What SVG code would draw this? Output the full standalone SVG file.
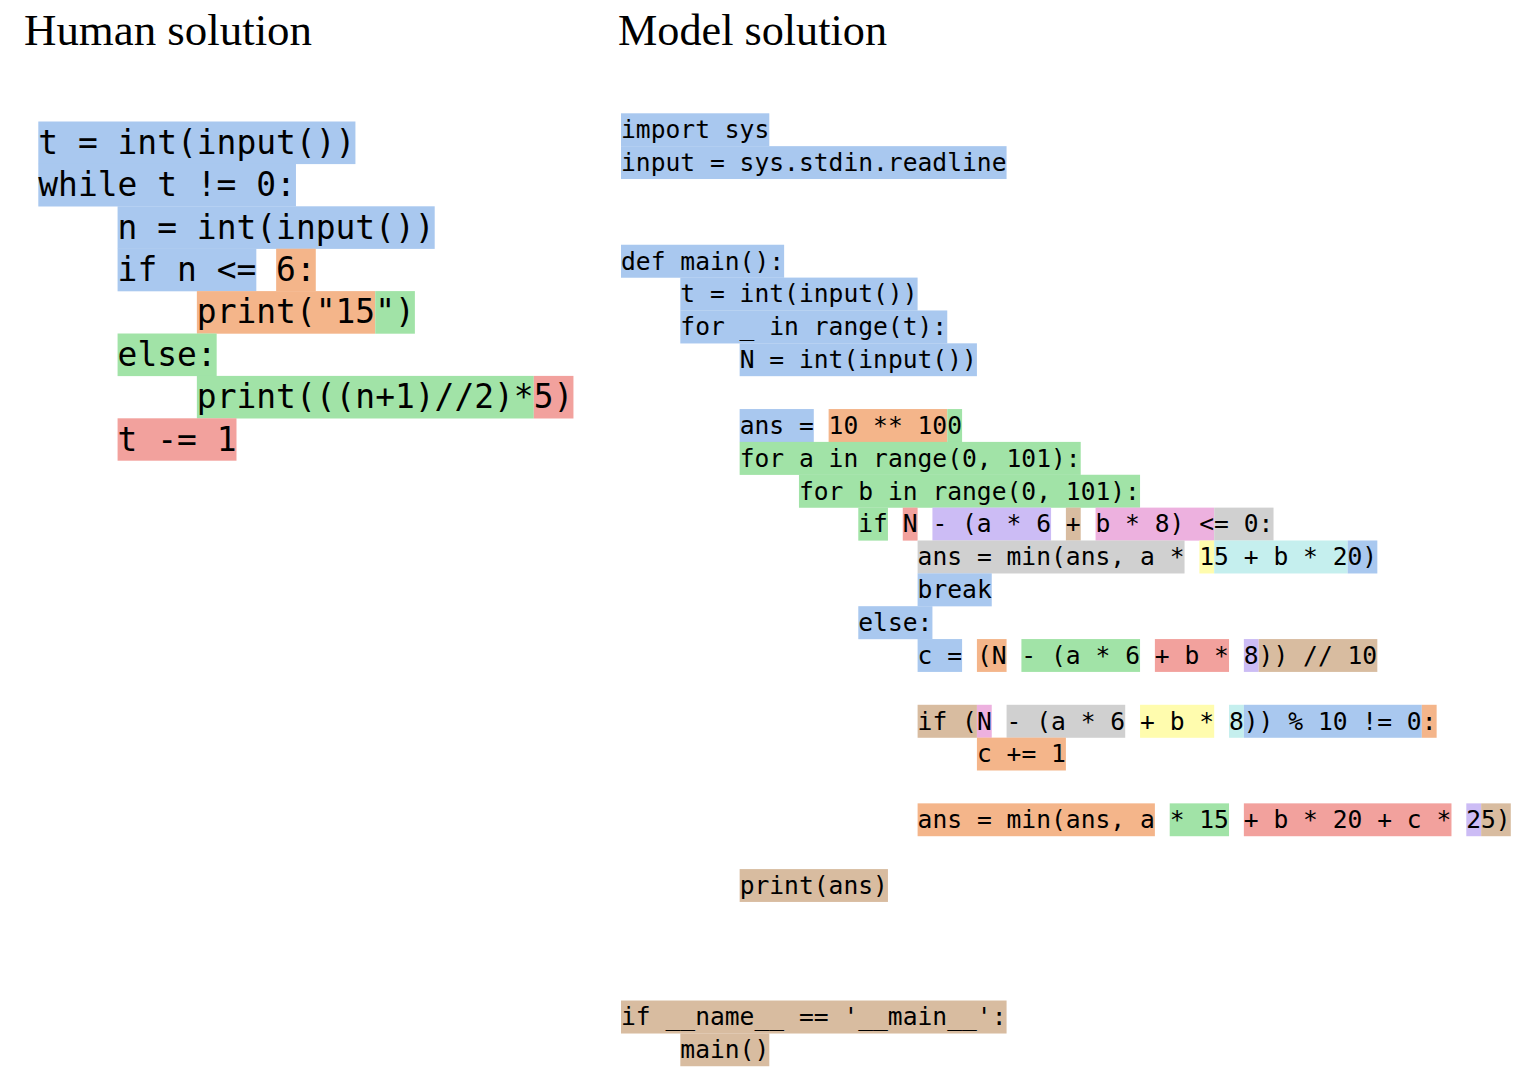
<svg xmlns="http://www.w3.org/2000/svg" width="1527" height="1072" viewBox="0 0 1527 1072">
<style>
.bg{fill:#ffffff}
.title{font-family:"Liberation Serif","DejaVu Serif",serif;font-size:44px;fill:#000}
.cl{font-family:"DejaVu Sans Mono",monospace;font-size:32.92px;fill:#000;white-space:pre}
.cr{font-family:"DejaVu Sans Mono",monospace;font-size:24.63px;fill:#000;white-space:pre}
.b{fill:#A9C8EF}
.o{fill:#F4B58A}
.g{fill:#A1E3A7}
.r{fill:#F2A19D}
.p{fill:#CCBCF5}
.t{fill:#D8BCA0}
.k{fill:#EDB1DF}
.y{fill:#FFFCAE}
.c{fill:#C5EFEE}
.s{fill:#D0D0D0}
</style>
<rect class="bg" x="0" y="0" width="1527" height="1072"/>
<g id="title-human"><text class="title" x="24" y="45" textLength="288" lengthAdjust="spacingAndGlyphs">Human solution</text></g>
<g id="title-model"><text class="title" x="618" y="45" textLength="269" lengthAdjust="spacingAndGlyphs">Model solution</text></g>

<g id="human-code">
<g id="h0"><rect class="b" x="38.3" y="121.5" width="317.12" height="42.6"/><text class="cl" x="38.3" y="153.8">t = int(input())</text></g>
<g id="h1"><rect class="b" x="38.3" y="163.9" width="257.66" height="42.6"/><text class="cl" x="38.3" y="196.2">while t != 0:</text></g>
<g id="h2"><rect class="b" x="117.58" y="206.3" width="317.12" height="42.6"/><text class="cl" x="117.58" y="238.6">n = int(input())</text></g>
<g id="h3"><rect class="b" x="117.58" y="248.7" width="138.74" height="42.6"/><rect class="o" x="276.14" y="248.7" width="39.64" height="42.6"/><text class="cl" x="117.58" y="281.0">if n &lt;= 6:</text></g>
<g id="h4"><rect class="o" x="196.86" y="291.1" width="178.38" height="42.6"/><rect class="g" x="375.24" y="291.1" width="39.64" height="42.6"/><text class="cl" x="196.86" y="323.4">print("15")</text></g>
<g id="h5"><rect class="g" x="117.58" y="333.5" width="99.1" height="42.6"/><text class="cl" x="117.58" y="365.8">else:</text></g>
<g id="h6"><rect class="g" x="196.86" y="375.9" width="336.94" height="42.6"/><rect class="r" x="533.8" y="375.9" width="39.64" height="42.6"/><text class="cl" x="196.86" y="408.2">print(((n+1)//2)*5)</text></g>
<g id="h7"><rect class="r" x="117.58" y="418.3" width="118.92" height="42.4"/><text class="cl" x="117.58" y="450.6">t -= 1</text></g>
</g>

<g id="model-code">
<g id="m0"><rect class="b" x="621" y="113.3" width="148.3" height="33"/><text class="cr" x="621" y="138.1">import sys</text></g>
<g id="m1"><rect class="b" x="621" y="146.16" width="385.58" height="32.86"/><text class="cr" x="621" y="170.96">input = sys.stdin.readline</text></g>
<g id="m4"><rect class="b" x="621" y="244.74" width="163.13" height="33"/><text class="cr" x="621" y="269.54">def main():</text></g>
<g id="m5"><rect class="b" x="680.32" y="277.6" width="237.28" height="33"/><text class="cr" x="680.32" y="302.4">t = int(input())</text></g>
<g id="m6"><rect class="b" x="680.32" y="310.46" width="266.94" height="33"/><text class="cr" x="680.32" y="335.26">for _ in range(t):</text></g>
<g id="m7"><rect class="b" x="739.64" y="343.32" width="237.28" height="32.86"/><text class="cr" x="739.64" y="368.12">N = int(input())</text></g>
<g id="m9"><rect class="b" x="739.64" y="409.04" width="74.15" height="33"/><rect class="o" x="828.62" y="409.04" width="118.64" height="33"/><rect class="g" x="947.26" y="409.04" width="14.83" height="33"/><text class="cr" x="739.64" y="433.84">ans = 10 ** 100</text></g>
<g id="m10"><rect class="g" x="739.64" y="441.9" width="341.09" height="33"/><text class="cr" x="739.64" y="466.7">for a in range(0, 101):</text></g>
<g id="m11"><rect class="g" x="798.96" y="474.76" width="341.09" height="33"/><text class="cr" x="798.96" y="499.56">for b in range(0, 101):</text></g>
<g id="m12"><rect class="g" x="858.28" y="507.62" width="29.66" height="33"/><rect class="r" x="902.77" y="507.62" width="14.83" height="33"/><rect class="p" x="932.43" y="507.62" width="118.64" height="33"/><rect class="t" x="1065.9" y="507.62" width="14.83" height="33"/><rect class="k" x="1095.56" y="507.62" width="118.64" height="33"/><rect class="s" x="1214.2" y="507.62" width="59.32" height="33"/><text class="cr" x="858.28" y="532.42">if N - (a * 6 + b * 8) &lt;= 0:</text></g>
<g id="m13"><rect class="s" x="917.6" y="540.48" width="266.94" height="33"/><rect class="y" x="1199.37" y="540.48" width="14.83" height="33"/><rect class="c" x="1214.2" y="540.48" width="133.47" height="33"/><rect class="b" x="1347.67" y="540.48" width="29.66" height="33"/><text class="cr" x="917.6" y="565.28">ans = min(ans, a * 15 + b * 20)</text></g>
<g id="m14"><rect class="b" x="917.6" y="573.34" width="74.15" height="33"/><text class="cr" x="917.6" y="598.14">break</text></g>
<g id="m15"><rect class="b" x="858.28" y="606.2" width="74.15" height="33"/><text class="cr" x="858.28" y="631.0">else:</text></g>
<g id="m16"><rect class="b" x="917.6" y="639.06" width="44.49" height="32.86"/><rect class="o" x="976.92" y="639.06" width="29.66" height="32.86"/><rect class="g" x="1021.41" y="639.06" width="118.64" height="32.86"/><rect class="r" x="1154.88" y="639.06" width="74.15" height="32.86"/><rect class="p" x="1243.86" y="639.06" width="14.83" height="32.86"/><rect class="t" x="1258.69" y="639.06" width="118.64" height="32.86"/><text class="cr" x="917.6" y="663.86">c = (N - (a * 6 + b * 8)) // 10</text></g>
<g id="m18"><rect class="t" x="917.6" y="704.78" width="59.32" height="33"/><rect class="k" x="976.92" y="704.78" width="14.83" height="33"/><rect class="s" x="1006.58" y="704.78" width="118.64" height="33"/><rect class="y" x="1140.05" y="704.78" width="74.15" height="33"/><rect class="c" x="1229.03" y="704.78" width="14.83" height="33"/><rect class="b" x="1243.86" y="704.78" width="177.96" height="33"/><rect class="o" x="1421.82" y="704.78" width="14.83" height="33"/><text class="cr" x="917.6" y="729.58">if (N - (a * 6 + b * 8)) % 10 != 0:</text></g>
<g id="m19"><rect class="o" x="976.92" y="737.64" width="88.98" height="32.86"/><text class="cr" x="976.92" y="762.44">c += 1</text></g>
<g id="m21"><rect class="o" x="917.6" y="803.36" width="237.28" height="32.86"/><rect class="g" x="1169.71" y="803.36" width="59.32" height="32.86"/><rect class="r" x="1243.86" y="803.36" width="207.62" height="32.86"/><rect class="p" x="1466.31" y="803.36" width="14.83" height="32.86"/><rect class="t" x="1481.14" y="803.36" width="29.66" height="32.86"/><text class="cr" x="917.6" y="828.16">ans = min(ans, a * 15 + b * 20 + c * 25)</text></g>
<g id="m23"><rect class="t" x="739.64" y="869.08" width="148.3" height="32.86"/><text class="cr" x="739.64" y="893.88">print(ans)</text></g>
<g id="m27"><rect class="t" x="621" y="1000.52" width="385.58" height="33"/><text class="cr" x="621" y="1025.32">if __name__ == '__main__':</text></g>
<g id="m28"><rect class="t" x="680.32" y="1033.38" width="88.98" height="32.86"/><text class="cr" x="680.32" y="1058.18">main()</text></g>
</g>
</svg>
